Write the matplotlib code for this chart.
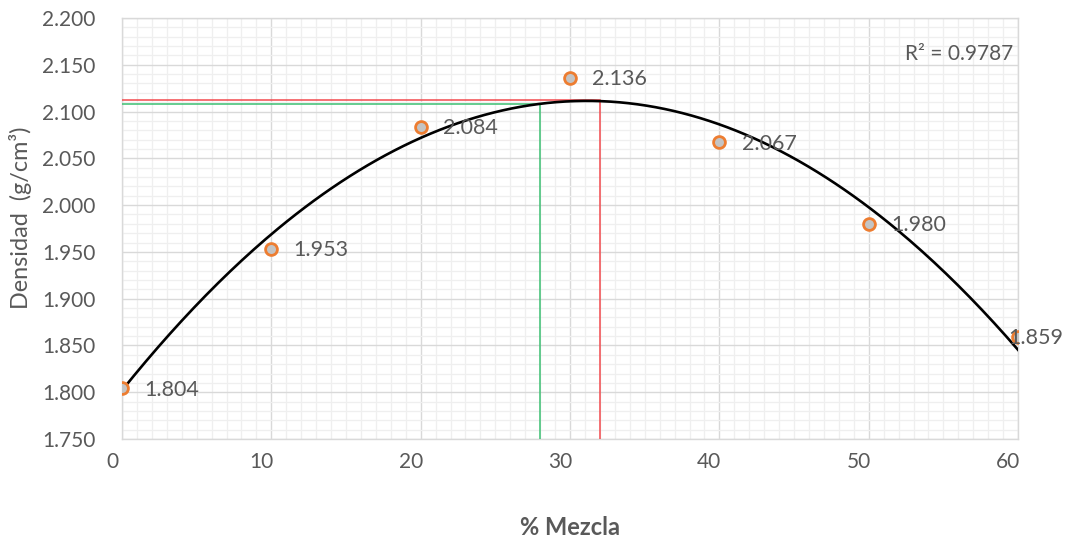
import numpy as np
import matplotlib
matplotlib.use("Agg")
from matplotlib import pyplot as plt
from matplotlib.ticker import MultipleLocator, FormatStrFormatter
from matplotlib.transforms import ScaledTranslation

# Densidad vs % de mezcla
mezcla = [0, 10, 20, 30, 40, 50, 60]
densidad = [1.804, 1.953, 2.084, 2.136, 2.067, 1.980, 1.859]
r2_texto = "R² = 0.9787"

# lineas de lectura del maximo (rojo) y del valor optimo (verde)
x_rojo, y_rojo = 32.0, 2.112
x_verde, y_verde = 28.0, 2.108

plt.rcParams['font.family'] = ['Lato', 'DejaVu Sans']

fig = plt.figure(figsize=(10.73, 5.39), dpi=100)
ax = fig.add_axes([0.1137, 0.1855, 0.8351, 0.7811])

# tendencia polinomica de orden 2
coef = np.polyfit(mezcla, densidad, 2)
xs = np.linspace(min(mezcla), max(mezcla), 300)
ax.plot(xs, np.polyval(coef, xs), color='black', lw=1.9, zorder=4)

ax.plot([0, x_rojo], [y_rojo, y_rojo], color='#f24a4e', lw=1.1, zorder=3)
ax.plot([x_rojo, x_rojo], [1.750, np.polyval(coef, x_rojo)], color='#f24a4e', lw=1.1, zorder=3)
ax.plot([0, x_verde], [y_verde, y_verde], color='#3cbf72', lw=1.1, zorder=3)
ax.plot([x_verde, x_verde], [1.750, np.polyval(coef, x_verde)], color='#3cbf72', lw=1.1, zorder=3)

ax.plot(mezcla, densidad, 'o', ms=8.5, mfc='#c4c4c4', mec='#ed7d31', mew=2.0,
        ls='none', zorder=5)

offsets = [16] * (len(mezcla) - 1) + [-7]
for x, y, dx in zip(mezcla, densidad, offsets):
    ax.annotate(f'{y:.3f}', (x, y), xytext=(dx, -1), textcoords='offset points',
                ha='left', va='center', fontsize=15.5, color='#595959',
                annotation_clip=False, zorder=6)

ax.text(0.995, 0.915, r2_texto, transform=ax.transAxes, ha='right', va='center',
        fontsize=15, color='#595959')

ax.set_xlim(0, 60)
ax.set_ylim(1.750, 2.200)
ax.xaxis.set_major_locator(MultipleLocator(10))
ax.xaxis.set_minor_locator(MultipleLocator(1))
ax.yaxis.set_major_locator(MultipleLocator(0.05))
ax.yaxis.set_minor_locator(MultipleLocator(0.01))
ax.yaxis.set_major_formatter(FormatStrFormatter('%.3f'))

ax.grid(which='major', color='#d9d9d9', lw=1.0)
ax.grid(which='minor', color='#efefef', lw=0.9)
ax.set_axisbelow(True)
for s in ax.spines.values():
    s.set_color('#d9d9d9')
    s.set_linewidth(1.0)

ax.tick_params(which='both', length=0)
ax.tick_params(axis='x', labelsize=15, labelcolor='#595959', pad=9)
ax.tick_params(axis='y', labelsize=15, labelcolor='#595959', pad=19)
shift = ScaledTranslation(-10 / 100, 0, fig.dpi_scale_trans)
for lbl in ax.get_xticklabels():
    lbl.set_transform(lbl.get_transform() + shift)

ax.set_xlabel('% Mezcla', fontsize=17, fontweight='bold', color='#595959')
ax.xaxis.set_label_coords(0.5, -0.183)
ax.set_ylabel('Densidad  (g/cm³)', fontsize=16.8, color='#595959')
ax.yaxis.set_label_coords(-0.100, 0.525)

fig.savefig('out.png', dpi=100)
